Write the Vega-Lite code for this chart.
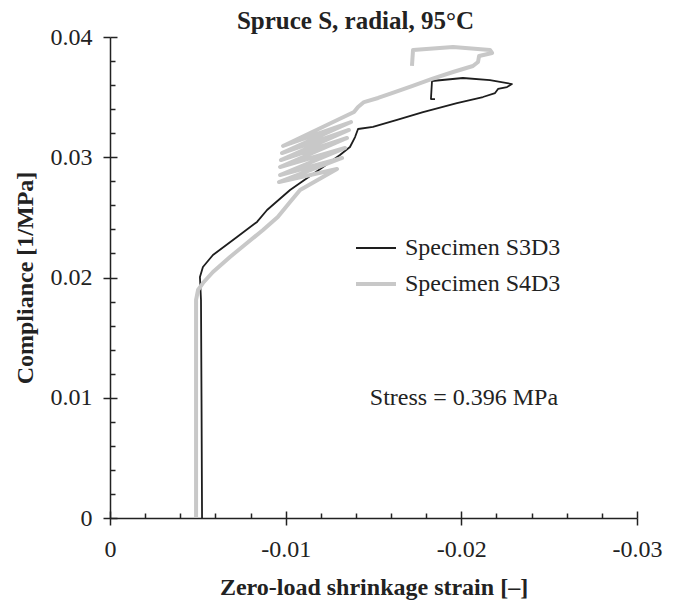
{
  "$schema": "https://vega.github.io/schema/vega-lite/v6.json",
  "autosize": "none",
  "padding": {"left": 110, "top": 37, "right": 39, "bottom": 92},
  "width": 527,
  "height": 481,
  "background": "white",
  "config": {
    "view": {"stroke": null},
    "font": "Liberation Serif"
  },
  "title": {
    "text": "Spruce S, radial, 95°C",
    "font": "Liberation Serif",
    "fontSize": 25,
    "fontWeight": "bold",
    "color": "#222222",
    "anchor": "middle",
    "dx": -18,
    "offset": -9
  },
  "datasets": {
    "curves": [
      {"series": "Specimen S3D3", "i": 1, "strain": -0.00524, "compliance": 0.0},
      {"series": "Specimen S3D3", "i": 2, "strain": -0.00521, "compliance": 0.00981},
      {"series": "Specimen S3D3", "i": 3, "strain": -0.00518, "compliance": 0.01813},
      {"series": "Specimen S3D3", "i": 4, "strain": -0.00512, "compliance": 0.02004},
      {"series": "Specimen S3D3", "i": 5, "strain": -0.00529, "compliance": 0.02087},
      {"series": "Specimen S3D3", "i": 6, "strain": -0.00586, "compliance": 0.02187},
      {"series": "Specimen S3D3", "i": 7, "strain": -0.00723, "compliance": 0.02337},
      {"series": "Specimen S3D3", "i": 8, "strain": -0.00837, "compliance": 0.02462},
      {"series": "Specimen S3D3", "i": 9, "strain": -0.00894, "compliance": 0.02561},
      {"series": "Specimen S3D3", "i": 10, "strain": -0.01025, "compliance": 0.02728},
      {"series": "Specimen S3D3", "i": 11, "strain": -0.01082, "compliance": 0.02786},
      {"series": "Specimen S3D3", "i": 12, "strain": -0.01213, "compliance": 0.02919},
      {"series": "Specimen S3D3", "i": 13, "strain": -0.01309, "compliance": 0.03019},
      {"series": "Specimen S3D3", "i": 14, "strain": -0.01366, "compliance": 0.03085},
      {"series": "Specimen S3D3", "i": 15, "strain": -0.01395, "compliance": 0.03168},
      {"series": "Specimen S3D3", "i": 16, "strain": -0.01412, "compliance": 0.03235},
      {"series": "Specimen S3D3", "i": 17, "strain": -0.01497, "compliance": 0.03252},
      {"series": "Specimen S3D3", "i": 18, "strain": -0.01634, "compliance": 0.0331},
      {"series": "Specimen S3D3", "i": 19, "strain": -0.01782, "compliance": 0.03376},
      {"series": "Specimen S3D3", "i": 20, "strain": -0.01975, "compliance": 0.03451},
      {"series": "Specimen S3D3", "i": 21, "strain": -0.02123, "compliance": 0.03501},
      {"series": "Specimen S3D3", "i": 22, "strain": -0.02192, "compliance": 0.03534},
      {"series": "Specimen S3D3", "i": 23, "strain": -0.02209, "compliance": 0.03568},
      {"series": "Specimen S3D3", "i": 24, "strain": -0.0226, "compliance": 0.03584},
      {"series": "Specimen S3D3", "i": 25, "strain": -0.02288, "compliance": 0.03609},
      {"series": "Specimen S3D3", "i": 26, "strain": -0.02163, "compliance": 0.03642},
      {"series": "Specimen S3D3", "i": 27, "strain": -0.02009, "compliance": 0.03659},
      {"series": "Specimen S3D3", "i": 28, "strain": -0.01833, "compliance": 0.03634},
      {"series": "Specimen S3D3", "i": 29, "strain": -0.01827, "compliance": 0.03484},
      {"series": "Specimen S3D3", "i": 30, "strain": -0.0185, "compliance": 0.03484},
      {"series": "Specimen S4D3", "i": 1, "strain": -0.0049, "compliance": 0.0},
      {"series": "Specimen S4D3", "i": 2, "strain": -0.0049, "compliance": 0.00981},
      {"series": "Specimen S4D3", "i": 3, "strain": -0.0049, "compliance": 0.01813},
      {"series": "Specimen S4D3", "i": 4, "strain": -0.00501, "compliance": 0.01896},
      {"series": "Specimen S4D3", "i": 5, "strain": -0.00529, "compliance": 0.01954},
      {"series": "Specimen S4D3", "i": 6, "strain": -0.00586, "compliance": 0.02046},
      {"series": "Specimen S4D3", "i": 7, "strain": -0.00683, "compliance": 0.02171},
      {"series": "Specimen S4D3", "i": 8, "strain": -0.0078, "compliance": 0.02287},
      {"series": "Specimen S4D3", "i": 9, "strain": -0.00871, "compliance": 0.02395},
      {"series": "Specimen S4D3", "i": 10, "strain": -0.00955, "compliance": 0.02503},
      {"series": "Specimen S4D3", "i": 11, "strain": -0.01025, "compliance": 0.02628},
      {"series": "Specimen S4D3", "i": 12, "strain": -0.01082, "compliance": 0.02728},
      {"series": "Specimen S4D3", "i": 13, "strain": -0.01292, "compliance": 0.02902},
      {"series": "Specimen S4D3", "i": 14, "strain": -0.00962, "compliance": 0.02794},
      {"series": "Specimen S4D3", "i": 15, "strain": -0.01321, "compliance": 0.02994},
      {"series": "Specimen S4D3", "i": 16, "strain": -0.00968, "compliance": 0.02852},
      {"series": "Specimen S4D3", "i": 17, "strain": -0.01338, "compliance": 0.03077},
      {"series": "Specimen S4D3", "i": 18, "strain": -0.00968, "compliance": 0.02919},
      {"series": "Specimen S4D3", "i": 19, "strain": -0.01349, "compliance": 0.0316},
      {"series": "Specimen S4D3", "i": 20, "strain": -0.00973, "compliance": 0.02977},
      {"series": "Specimen S4D3", "i": 21, "strain": -0.0136, "compliance": 0.03227},
      {"series": "Specimen S4D3", "i": 22, "strain": -0.00979, "compliance": 0.03035},
      {"series": "Specimen S4D3", "i": 23, "strain": -0.01372, "compliance": 0.03293},
      {"series": "Specimen S4D3", "i": 24, "strain": -0.00985, "compliance": 0.03094},
      {"series": "Specimen S4D3", "i": 25, "strain": -0.01389, "compliance": 0.03376},
      {"series": "Specimen S4D3", "i": 26, "strain": -0.01412, "compliance": 0.03418},
      {"series": "Specimen S4D3", "i": 27, "strain": -0.01446, "compliance": 0.03459},
      {"series": "Specimen S4D3", "i": 28, "strain": -0.01526, "compliance": 0.03493},
      {"series": "Specimen S4D3", "i": 29, "strain": -0.01605, "compliance": 0.03534},
      {"series": "Specimen S4D3", "i": 30, "strain": -0.01719, "compliance": 0.03592},
      {"series": "Specimen S4D3", "i": 31, "strain": -0.01833, "compliance": 0.03651},
      {"series": "Specimen S4D3", "i": 32, "strain": -0.01953, "compliance": 0.03709},
      {"series": "Specimen S4D3", "i": 33, "strain": -0.02066, "compliance": 0.03759},
      {"series": "Specimen S4D3", "i": 34, "strain": -0.02095, "compliance": 0.03792},
      {"series": "Specimen S4D3", "i": 35, "strain": -0.02101, "compliance": 0.03842},
      {"series": "Specimen S4D3", "i": 36, "strain": -0.02175, "compliance": 0.03867},
      {"series": "Specimen S4D3", "i": 37, "strain": -0.02163, "compliance": 0.03892},
      {"series": "Specimen S4D3", "i": 38, "strain": -0.01953, "compliance": 0.03917},
      {"series": "Specimen S4D3", "i": 39, "strain": -0.01725, "compliance": 0.03892},
      {"series": "Specimen S4D3", "i": 40, "strain": -0.01719, "compliance": 0.03759}
    ],
    "notes": [
      {"label": "Stress = 0.396 MPa", "strain": -0.02015, "compliance": 0.01}
    ]
  },
  "layer": [
    {
      "data": {"name": "curves"},
      "mark": {"type": "line", "strokeJoin": "round", "strokeCap": "butt"},
      "encoding": {
        "x": {
          "field": "strain", "type": "quantitative",
          "scale": {"domain": [-0.03, 0], "reverse": true, "nice": false, "zero": false},
          "axis": {
            "orient": "bottom",
            "values": [0, -0.01, -0.02, -0.03],
            "labelExpr": "datum.value == 0 ? '0' : '-0.0' + round(abs(datum.value) * 100)",
            "title": "Zero-load shrinkage strain [–]",
            "titleFont": "Liberation Serif", "titleFontSize": 24, "titleFontWeight": "bold", "titleColor": "#222222",
            "titlePadding": 14,
            "labelFont": "Liberation Serif", "labelFontSize": 24, "labelColor": "#222222",
            "labelPadding": 12, "labelFlush": false, "labelOverlap": false,
            "tickSize": 7, "tickColor": "#222222", "tickWidth": 1.5,
            "domainColor": "#222222", "domainWidth": 1.5, "grid": false
          }
        },
        "y": {
          "field": "compliance", "type": "quantitative",
          "scale": {"domain": [0, 0.04], "nice": false},
          "axis": {
            "orient": "left",
            "values": [0, 0.01, 0.02, 0.03, 0.04],
            "labelExpr": "datum.value == 0 ? '0' : format(datum.value, '.2f')",
            "title": "Compliance [1/MPa]",
            "titleFont": "Liberation Serif", "titleFontSize": 24, "titleFontWeight": "bold", "titleColor": "#222222",
            "titlePadding": 13,
            "labelFont": "Liberation Serif", "labelFontSize": 24, "labelColor": "#222222",
            "labelPadding": 11, "labelFlush": false, "labelOverlap": false,
            "tickSize": 7, "tickColor": "#222222", "tickWidth": 1.5,
            "domainColor": "#222222", "domainWidth": 1.5, "grid": false
          }
        },
        "order": {"field": "i", "type": "quantitative"},
        "color": {
          "field": "series", "type": "nominal",
          "scale": {"domain": ["Specimen S3D3", "Specimen S4D3"], "range": ["#1e1e1e", "#c8c8c8"]},
          "legend": {
            "title": null,
            "orient": "none",
            "legendX": 244,
            "legendY": 190,
            "symbolType": "stroke",
            "symbolSize": 1600,
            "labelFont": "Liberation Serif",
            "labelFontSize": 24,
            "labelColor": "#222222",
            "labelOffset": 7,
            "rowPadding": 2
          }
        },
        "strokeWidth": {
          "field": "series", "type": "nominal",
          "scale": {"domain": ["Specimen S3D3", "Specimen S4D3"], "range": [1.8, 4]},
          "legend": null
        }
      }
    },
    {
      "data": {"name": "curves"},
      "mark": {"type": "point", "opacity": 0},
      "encoding": {
        "x": {
          "field": "strain", "type": "quantitative",
          "axis": {
            "orient": "bottom",
            "values": [0, -0.002, -0.004, -0.006, -0.008, -0.01, -0.012, -0.014, -0.016, -0.018, -0.02, -0.022, -0.024, -0.026, -0.028, -0.03],
            "labels": false, "domain": false, "title": null, "grid": false,
            "tickSize": {"condition": {"test": "round(abs(datum.value) * 1000) % 10 === 0", "value": -7}, "value": -5},
            "tickColor": "#222222", "tickWidth": 1.5
          }
        },
        "y": {
          "field": "compliance", "type": "quantitative",
          "axis": {
            "orient": "left",
            "values": [0, 0.002, 0.004, 0.006, 0.008, 0.01, 0.012, 0.014, 0.016, 0.018, 0.02, 0.022, 0.024, 0.026, 0.028, 0.03, 0.032, 0.034, 0.036, 0.038, 0.04],
            "labels": false, "domain": false, "title": null, "grid": false,
            "tickSize": {"condition": {"test": "round(abs(datum.value) * 1000) % 10 === 0", "value": -7}, "value": -5},
            "tickColor": "#222222", "tickWidth": 1.5
          }
        }
      }
    },
    {
      "data": {"name": "notes"},
      "mark": {"type": "text", "font": "Liberation Serif", "fontSize": 24, "color": "#222222", "align": "center", "baseline": "middle"},
      "encoding": {
        "x": {"field": "strain", "type": "quantitative", "axis": null},
        "y": {"field": "compliance", "type": "quantitative", "axis": null},
        "text": {"field": "label"}
      }
    }
  ],
  "resolve": {"axis": {"x": "independent", "y": "independent"}}
}
